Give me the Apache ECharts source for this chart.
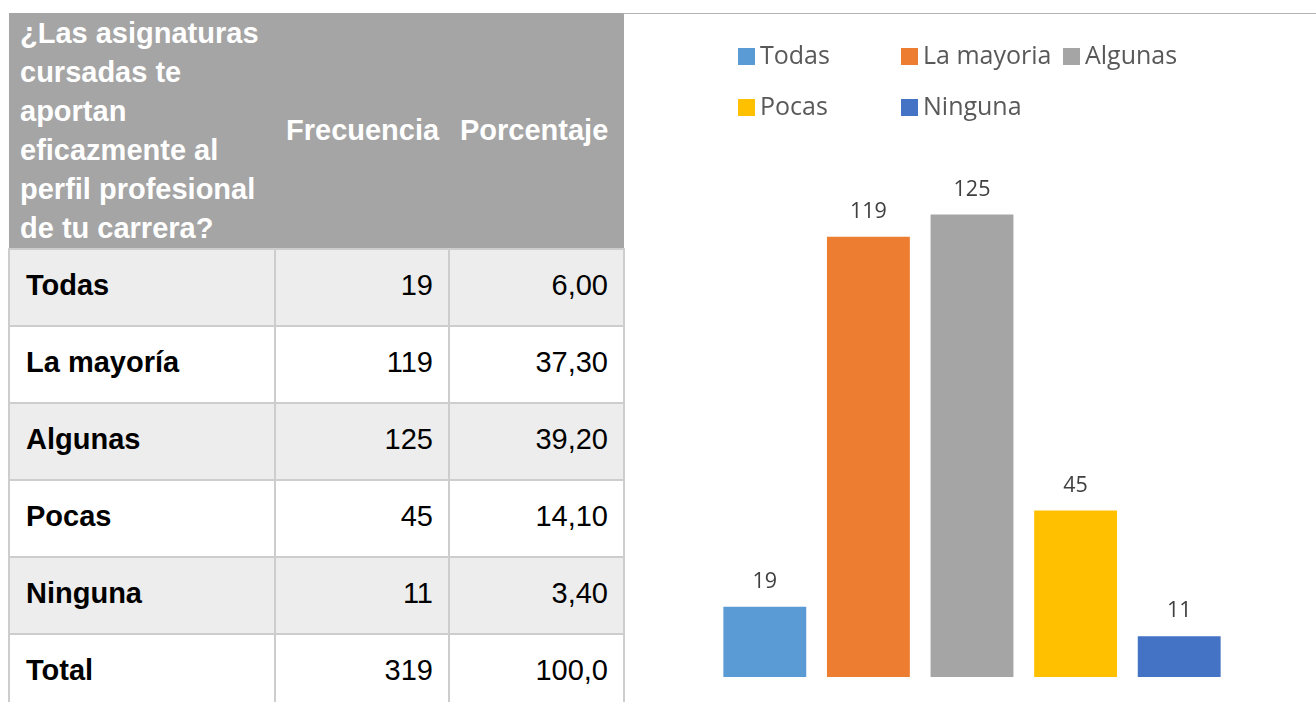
<!DOCTYPE html>
<html>
<head>
<meta charset="utf-8">
<script src="https://cdn.jsdelivr.net/npm/echarts@6/dist/echarts.min.js"></script>
<style>
  html, body { margin: 0; padding: 0; background: #fff; width: 1316px; height: 702px; overflow: hidden; }
  #tabla {
    position: absolute; left: 8px; top: 13px; width: 615px;
    border-collapse: collapse; table-layout: fixed;
    font-family: "Liberation Sans", Arial, sans-serif; font-size: 29px;
  }
  #tabla th {
    background: #a5a5a5; color: #fff; font-weight: bold; text-align: left;
    line-height: 39px; padding: 0 0 0 11px; height: 235px; vertical-align: middle;
    white-space: pre-line;
  }
  #tabla td {
    height: 70px; border: 2px solid #cdcdcd; padding: 0 15px 5px 16px;
    vertical-align: middle; color: #000; text-align: right;
  }
  #tabla td.cat { font-weight: bold; text-align: left; }
  #tabla tr.par td { background: #ededed; }
  #chart {
    position: absolute; left: 623px; top: 13px; width: 693px; height: 689px;
    border-top: 1px solid #b4b4b4; box-sizing: border-box;
  }
</style>
</head>
<body>
<table id="tabla">
  <colgroup><col style="width:266px"><col style="width:174px"><col style="width:175px"></colgroup>
  <thead><tr id="cabecera"></tr></thead>
  <tbody id="cuerpo"></tbody>
</table>
<div id="chart"></div>
<script>
// datos de la tabla
const encabezados = ['¿Las asignaturas\ncursadas te\naportan\neficazmente al\nperfil profesional\nde tu carrera?', 'Frecuencia', 'Porcentaje'];
const filas = ['Todas', 'La mayoría', 'Algunas', 'Pocas', 'Ninguna', 'Total'];
const frecuencias = [19, 119, 125, 45, 11, 319];
const porcentajes = ['6,00', '37,30', '39,20', '14,10', '3,40', '100,0'];

// datos del gráfico
const categorias = ['Todas', 'La mayoria', 'Algunas', 'Pocas', 'Ninguna'];
const valores = [19, 119, 125, 45, 11];
const colores = ['#5b9bd5', '#ed7d31', '#a5a5a5', '#ffc000', '#4472c4'];

// tabla
const cab = document.getElementById('cabecera');
encabezados.forEach(t => {
  const th = document.createElement('th');
  th.textContent = t;
  cab.appendChild(th);
});
const cuerpo = document.getElementById('cuerpo');
filas.forEach((f, i) => {
  const tr = document.createElement('tr');
  if (i % 2 === 0) tr.className = 'par';
  tr.innerHTML = '<td class="cat">' + f + '</td><td>' + frecuencias[i] + '</td><td>' + porcentajes[i] + '</td>';
  cuerpo.appendChild(tr);
});

// posiciones de la leyenda (como en Excel, dos filas)
const leyendaPos = [[110, 25], [273, 25], [435, 25], [110, 76], [273, 76]];

const series = categorias.map((c, i) => ({
  name: c,
  type: 'bar',
  stack: 'total',
  barCategoryGap: '20%',
  itemStyle: {color: colores[i]},
  label: {show: true, position: 'top', distance: 14, color: '#404040', fontSize: 21.5, fontFamily: 'Open Sans'},
  data: valores.map((v, j) => (j === i ? v : null))
}));

const option = {
  animation: false,
  legend: categorias.map((c, i) => ({
    data: [c],
    left: leyendaPos[i][0],
    top: leyendaPos[i][1],
    icon: 'rect',
    itemWidth: 17,
    itemHeight: 17,
    selectedMode: false,
    textStyle: {color: '#595959', fontSize: 25, fontFamily: 'Open Sans'}
  })),
  grid: {left: 90, right: 85, top: 145, bottom: 25},
  xAxis: {type: 'category', data: categorias, show: false},
  yAxis: {type: 'value', min: 0, max: 140, show: false},
  series: series
};

const myChart = echarts.init(document.getElementById('chart'));
myChart.setOption(option);
</script>
</body>
</html>
